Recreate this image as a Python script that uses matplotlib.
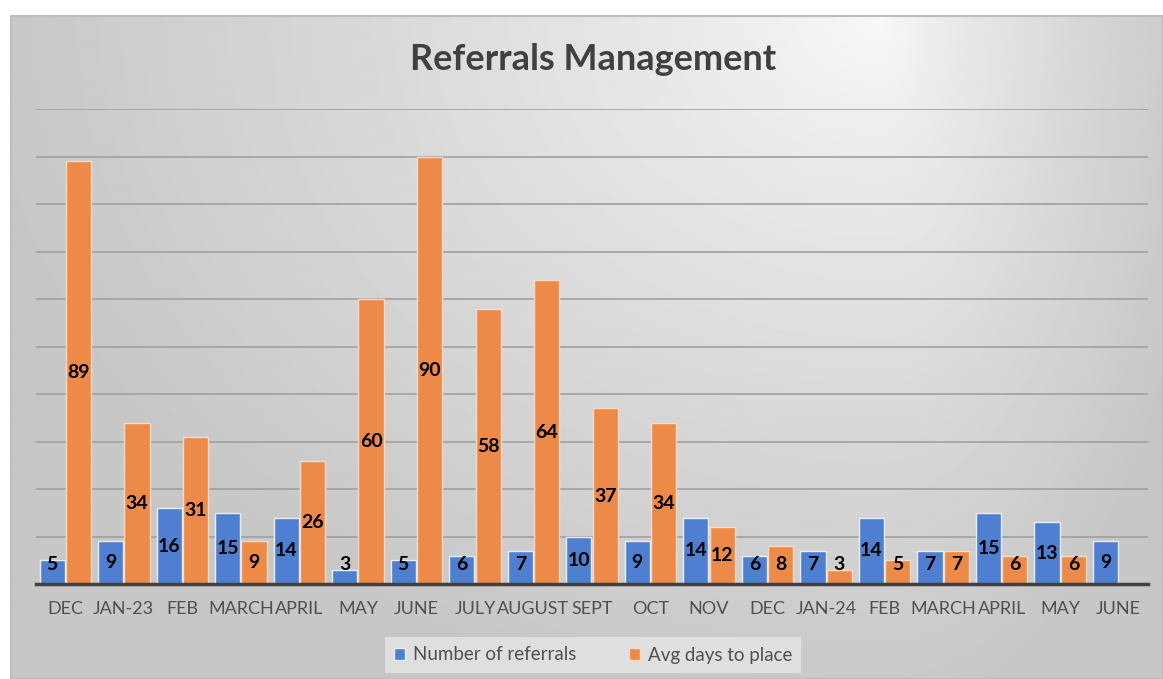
#!/usr/bin/env python3
import matplotlib
matplotlib.use("Agg")
import matplotlib.pyplot as plt
import numpy as np

months = ["DEC", "JAN-23", "FEB", "MARCH", "APRIL", "MAY", "JUNE", "JULY",
          "AUGUST", "SEPT", "OCT", "NOV", "DEC", "JAN-24", "FEB", "MARCH",
          "APRIL", "MAY", "JUNE"]
referrals = [5, 9, 16, 15, 14, 3, 5, 6, 7, 10, 9, 14, 6, 7, 14, 7, 15, 13, 9]
avg_days = [89, 34, 31, 9, 26, 60, 90, 58, 64, 37, 34, 12, 8, 3, 5, 7, 6, 6, np.nan]

blue = "#4f7fd0"
orange = "#ed8a48"
plt.rcParams['font.family'] = ['Lato', 'DejaVu Sans']

W, H = 1163, 679
fig = plt.figure(figsize=(W / 100, H / 100), dpi=100)
fig.patch.set_facecolor("white")

# gradient background of the chart area (light spot near the top, right of centre)
bg = fig.add_axes([11 / W, 0, 1 - 11 / W, 1 - 16 / H])
py, px = np.mgrid[16:679:2, 11:1163:2].astype(float)
cx, cy = 880.0, 20.0
dx = np.where(px < cx, (px - cx) / 900.0, (px - cx) / 330.0)
dy = (py - cy) / 700.0
d = np.clip(np.sqrt(dx ** 2 + dy ** 2), 0, 1)
shade = 0.975 - 0.195 * d ** 0.8
bg.imshow(shade, cmap="gray", vmin=0, vmax=1, aspect="auto",
          extent=[0, 1, 0, 1], origin="upper", interpolation="bilinear")
bg.set_xticks([])
bg.set_yticks([])
for s in bg.spines.values():
    s.set_color("#bdbdbd")
    s.set_linewidth(1.5)

ax = fig.add_axes([36 / W, 1 - 584 / H, (1148 - 36) / W, (584 - 109) / H])
ax.patch.set_alpha(0)
x = np.arange(len(months))
w = 0.43
b1 = ax.bar(x - w / 2 - 0.01, referrals, w, color=blue, edgecolor="#e8eefa",
            linewidth=1, label="Number of referrals", zorder=3)
b2 = ax.bar(x + w / 2 + 0.01, avg_days, w, color=orange, edgecolor="#f8dcc8",
            linewidth=1, label="Avg days to place", zorder=3)

for bars, vals in [(b1, referrals), (b2, avg_days)]:
    for r, v in zip(bars, vals):
        if np.isnan(v):
            continue
        ax.text(r.get_x() + r.get_width() / 2, max(v / 2, 4), "%d" % v,
                ha="center", va="center", fontsize=14, fontweight="bold",
                color="black", zorder=5)

ax.set_xlim(-0.5, len(months) - 0.5)
ax.set_ylim(0, 100)
ax.set_yticks(np.arange(0, 101, 10))
ax.yaxis.grid(True, color="#a0a0a0", linewidth=1.2, zorder=0)
ax.set_axisbelow(True)
ax.tick_params(axis="y", left=False, labelleft=False)
ax.set_xticks(x)
ax.set_xticklabels(months, fontsize=13, color="#505050")
ax.tick_params(axis="x", length=0, pad=12)
for s in ["top", "right", "left"]:
    ax.spines[s].set_visible(False)
ax.spines["bottom"].set_color("#404040")
ax.spines["bottom"].set_linewidth(2.5)
ax.spines["bottom"].set_zorder(4)

fig.text(593 / W, 1 - 59 / H, "Referrals Management", ha="center", va="center",
         fontsize=26, fontweight="bold", color="#404040")

leg = fig.legend(handles=[b1, b2], loc="center", bbox_to_anchor=(593 / W, 1 - 655 / H),
                 ncol=2, frameon=True, fontsize=13.5, handlelength=0.6,
                 handleheight=0.6, columnspacing=2.8, handletextpad=0.4,
                 fancybox=False, borderpad=0.5, borderaxespad=0)
leg.get_frame().set_facecolor("#e6e6e6")
leg.get_frame().set_edgecolor("none")
leg.get_frame().set_alpha(0.8)
for t in leg.get_texts():
    t.set_color("#505050")

fig.savefig("out.png", dpi=100)
